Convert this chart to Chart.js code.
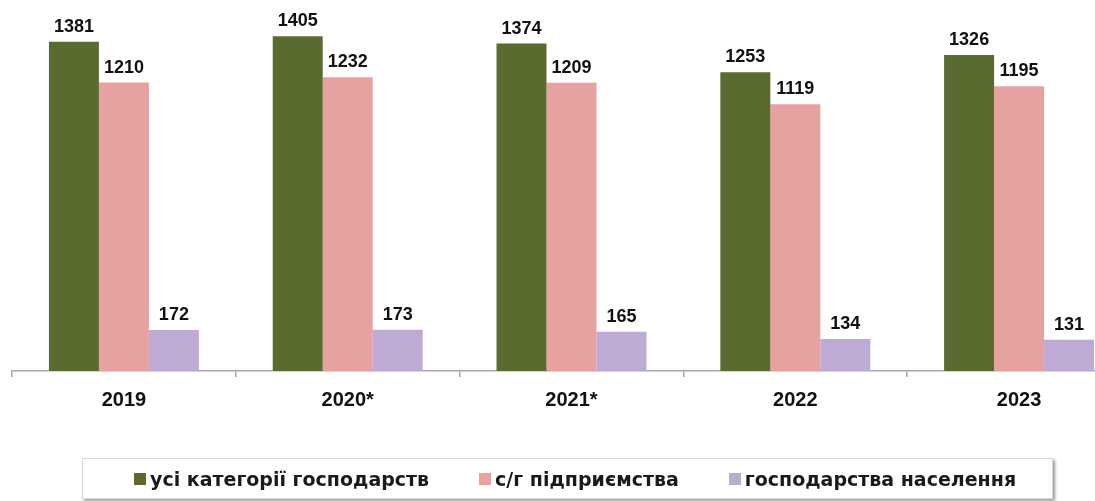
<!DOCTYPE html>
<html lang="uk">
<head>
<meta charset="utf-8">
<title>Категорії господарств</title>
<script src="https://cdn.jsdelivr.net/npm/chart.js@4.4.1/dist/chart.umd.min.js"></script>
<style>
  html, body { margin: 0; padding: 0; background: #fff; }
  #wrap { position: relative; width: 1095px; height: 501px; overflow: hidden; }
  #chart { position: absolute; left: 0; top: 0; }
  #legend {
    position: absolute; left: 82px; top: 458px; width: 971px; height: 41px;
    border: 1px solid #d8d8d8; box-shadow: 2px 2px 3px #9a9a9a;
    display: flex; align-items: center; padding-left: 51px; box-sizing: border-box;
    font: bold 19px "DejaVu Sans", sans-serif; color: #1a1a1a;
  }
  #legend .item { display: flex; align-items: center; margin-right: 50px; white-space: nowrap; }
  #legend .sw { width: 12px; height: 12px; margin-right: 4px; }
</style>
</head>
<body>
<div id="wrap">
  <canvas id="chart" width="1131" height="501"></canvas>
  <div id="legend"></div>
</div>
<script>
  // ====== DATOS ======
  const years = ['2019', '2020*', '2021*', '2022', '2023'];
  const seriesNames = ['усі категорії господарств', 'с/г підприємства', 'господарства населення'];
  const allFarms   = [1381, 1405, 1374, 1253, 1326];
  const enterprises = [1210, 1232, 1209, 1119, 1195];
  const households = [172, 173, 165, 134, 131];
  const colors = ['#596b2f', '#e8a1a1', '#bfa9d5'];

  // etiquetas encima de cada barra
  const valueLabels = {
    id: 'valueLabels',
    afterDatasetsDraw(chart) {
      const { ctx } = chart;
      ctx.save();
      ctx.font = 'bold 18px "Liberation Sans", Arial, sans-serif';
      ctx.fillStyle = '#111';
      ctx.textAlign = 'center';
      ctx.textBaseline = 'alphabetic';
      chart.data.datasets.forEach((ds, i) => {
        chart.getDatasetMeta(i).data.forEach((bar, j) => {
          ctx.fillText(String(ds.data[j]), bar.x, bar.y - 10);
        });
      });
      ctx.restore();
    }
  };

  const chart = new Chart(document.getElementById('chart'), {
    type: 'bar',
    data: {
      labels: years,
      datasets: [
        { label: seriesNames[0], data: allFarms, backgroundColor: colors[0] },
        { label: seriesNames[1], data: enterprises, backgroundColor: colors[1] },
        { label: seriesNames[2], data: households, backgroundColor: colors[2] }
      ]
    },
    options: {
      responsive: false,
      animation: false,
      layout: { padding: { top: 13.5, left: 12, right: 0, bottom: 0 } },
      datasets: { bar: { barPercentage: 1, categoryPercentage: 0.67 } },
      plugins: { legend: { display: false }, tooltip: { enabled: false } },
      scales: {
        x: {
          grid: { offset: true, drawOnChartArea: false, drawTicks: true, tickLength: 6, color: '#a8a8a8', lineWidth: 1.5 },
          border: { color: '#a8a8a8', width: 1.5 },
          ticks: { color: '#111', padding: 11, font: { family: '"Liberation Sans", Arial, sans-serif', size: 20, weight: 'bold' } },
          afterFit(scale) { scale.height = 130; }
        },
        y: { display: false, min: 0, max: 1500 }
      }
    },
    plugins: [valueLabels]
  });

  // leyenda HTML
  const legend = document.getElementById('legend');
  chart.data.datasets.forEach(ds => {
    const item = document.createElement('div');
    item.className = 'item';
    item.innerHTML = `<span class="sw" style="background:${ds.backgroundColor}"></span><span>${ds.label}</span>`;
    legend.appendChild(item);
  });
</script>
</body>
</html>
